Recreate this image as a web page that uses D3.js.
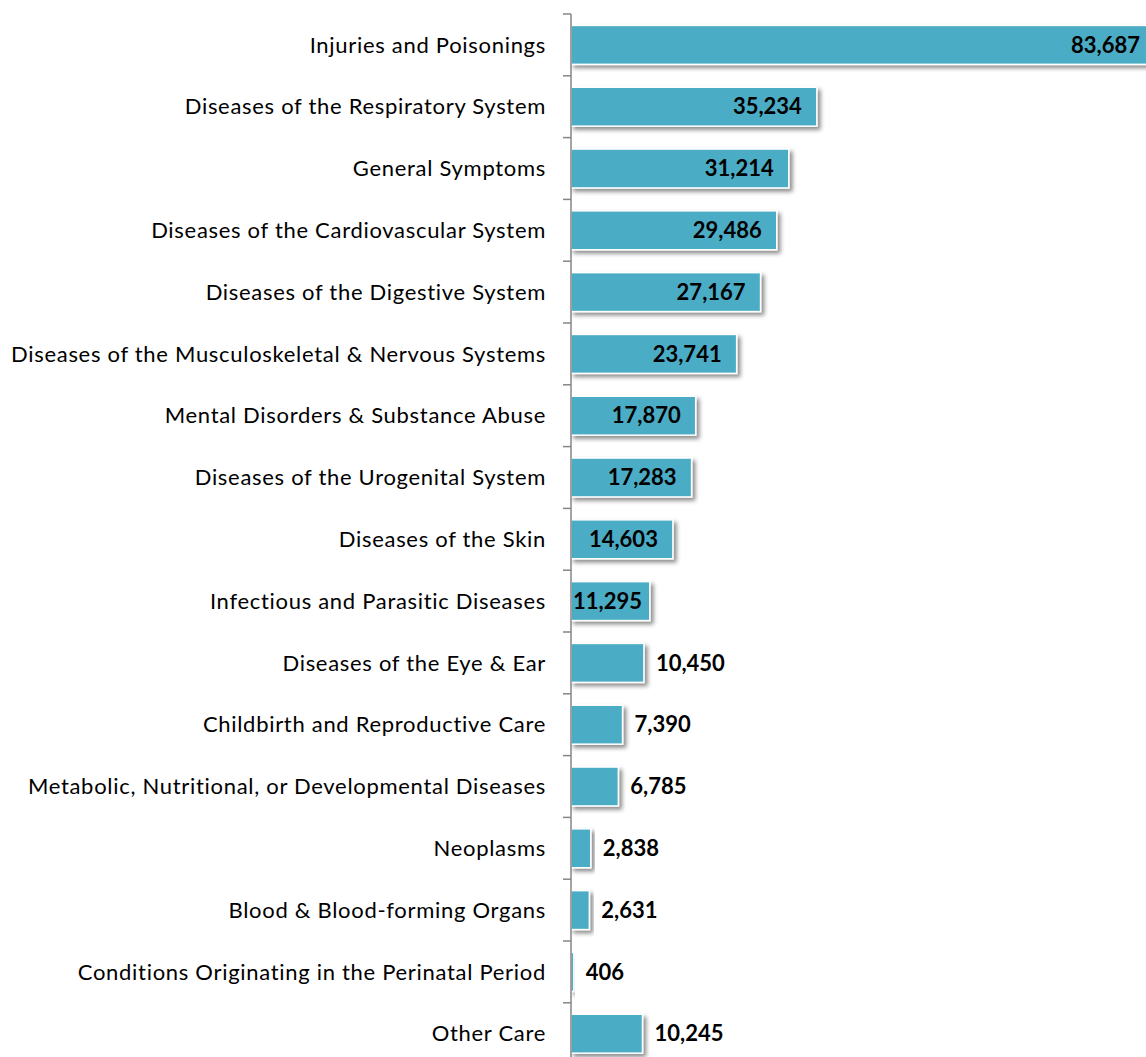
<!DOCTYPE html>
<html>
<head>
<meta charset="utf-8">
<script src="https://cdn.jsdelivr.net/npm/d3@7"></script>
<style>
  body { margin: 0; background: #fff; }
  .cat { font-family: Lato, "Open Sans", sans-serif; font-size: 22px; letter-spacing: 0.7px; fill: #000; }
  .val { font-family: Lato, "Open Sans", sans-serif; font-size: 22px; font-weight: bold; fill: #000; }
</style>
</head>
<body>
<div class="chart"></div>
<script>
// Categories and values, top to bottom
const categories = [
  "Injuries and Poisonings",
  "Diseases of the Respiratory System",
  "General Symptoms",
  "Diseases of the Cardiovascular System",
  "Diseases of the Digestive System",
  "Diseases of the Musculoskeletal & Nervous Systems",
  "Mental Disorders & Substance Abuse",
  "Diseases of the Urogenital System",
  "Diseases of the Skin",
  "Infectious and Parasitic Diseases",
  "Diseases of the Eye & Ear",
  "Childbirth and Reproductive Care",
  "Metabolic, Nutritional, or Developmental Diseases",
  "Neoplasms",
  "Blood & Blood-forming Organs",
  "Conditions Originating in the Perinatal Period",
  "Other Care"
];
const values = [83687, 35234, 31214, 29486, 27167, 23741, 17870, 17283, 14603, 11295,
  10450, 7390, 6785, 2838, 2631, 406, 10245];

const data = categories.map((c, i) => ({ cat: c, value: values[i] }));

const width = 1146, height = 1057;
const axisX = 571;

const svg = d3.select(".chart")
  .append("svg")
  .attr("width", width)
  .attr("height", height);

// drop shadow for bars
const defs = svg.append("defs");
const f = defs.append("filter")
  .attr("id", "shadow")
  .attr("x", "-10%").attr("y", "-30%")
  .attr("width", "130%").attr("height", "180%");
f.append("feDropShadow")
  .attr("dx", 3).attr("dy", 3)
  .attr("stdDeviation", 2)
  .attr("flood-color", "#000")
  .attr("flood-opacity", 0.45);

const x = d3.scaleLinear()
  .domain([0, 90000])
  .range([axisX, axisX + 628]);

const y = d3.scaleBand()
  .domain(categories)
  .range([14, 14 + 17 * 61.8])
  .paddingInner(0.37)
  .paddingOuter(0.185);

// bars
svg.selectAll(".bar")
  .data(data)
  .enter()
  .append("rect")
  .attr("class", "bar")
  .attr("x", x(0))
  .attr("y", d => y(d.cat))
  .attr("width", d => x(d.value) - x(0))
  .attr("height", y.bandwidth())
  .attr("fill", "#4BACC6")
  .attr("stroke", "#fff")
  .attr("stroke-width", 1.5)
  .attr("filter", "url(#shadow)");

// category axis (ticks between bands)
const axisG = svg.append("g");
axisG.append("line")
  .attr("x1", axisX).attr("x2", axisX)
  .attr("y1", y.range()[0]).attr("y2", height)
  .attr("stroke", "#868686")
  .attr("stroke-width", 1.5);
axisG.selectAll(".tick")
  .data(d3.range(categories.length))
  .enter()
  .append("line")
  .attr("x1", axisX - 8).attr("x2", axisX)
  .attr("y1", i => y.range()[0] + i * y.step())
  .attr("y2", i => y.range()[0] + i * y.step())
  .attr("stroke", "#868686")
  .attr("stroke-width", 1.5);

// category labels
svg.selectAll(".cat")
  .data(data)
  .enter()
  .append("text")
  .attr("class", "cat")
  .attr("x", 546)
  .attr("y", d => y(d.cat) + y.bandwidth() / 2)
  .attr("dy", "0.35em")
  .attr("text-anchor", "end")
  .text(d => d.cat);

// value labels: inside end for long bars, outside for short
const fmt = d3.format(",");
const labels = svg.selectAll(".val")
  .data(data)
  .enter()
  .append("text")
  .attr("class", "val")
  .attr("y", d => y(d.cat) + y.bandwidth() / 2)
  .attr("dy", "0.35em")
  .text(d => fmt(d.value));

labels.each(function(d) {
  const t = d3.select(this);
  const w = this.getComputedTextLength();
  const end = x(d.value);
  if (d.value > 11000) {
    let start = end - 15 - w;
    if (start < axisX + 2) start = axisX + 2;
    t.attr("x", start);
  } else {
    t.attr("x", end + 12);
  }
});
</script>
</body>
</html>
